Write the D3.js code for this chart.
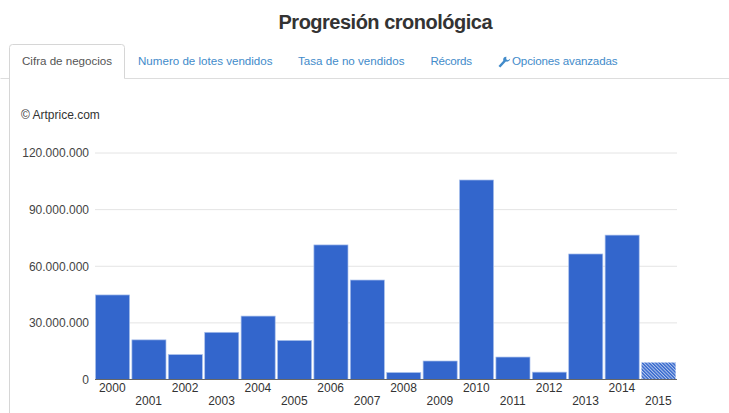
<!DOCTYPE html>
<html><head><meta charset="utf-8">
<script src="https://cdn.jsdelivr.net/npm/d3@7"></script>
<style>
html,body{margin:0;padding:0;background:#fff}
svg{display:block;font-family:"Liberation Sans",Arial,sans-serif}
</style></head><body>
<svg id="c" width="729" height="413"></svg>
<script>
const years=["2000","2001","2002","2003","2004","2005","2006","2007","2008","2009","2010","2011","2012","2013","2014","2015"];
const revenue=[44800000,21000000,13200000,25000000,33600000,20700000,71300000,52700000,3700000,9800000,105700000,11900000,3900000,66500000,76500000,9000000];
const partialYears=["2015"];
const yTicks=[0,30000000,60000000,90000000,120000000];
const tabs=["Cifra de negocios","Numero de lotes vendidos","Tasa de no vendidos","Récords","Opciones avanzadas"];
const tabX=[22,138,298,430.5,512];
const tabW=[90,134.5,106.5,41.5,105.5];

const svg=d3.select("#c");
const defs=svg.append("defs");
const pat=defs.append("pattern").attr("id","hatch").attr("patternUnits","userSpaceOnUse")
  .attr("width",2.4).attr("height",2.4).attr("patternTransform","rotate(-45)");
pat.append("rect").attr("width",2.4).attr("height",2.4).attr("fill","#b4c8ee");
pat.append("rect").attr("width",1.4).attr("height",2.4).attr("fill","#3366cc");

const x=d3.scaleBand().domain(years).range([95,675.6]).paddingInner(0.05).paddingOuter(0.0);
const y=d3.scaleLinear().domain([0,120000000]).range([379.5,153]);

// title
svg.append("text").attr("x",385.5).attr("y",29).attr("text-anchor","middle")
  .attr("font-size",20).attr("font-weight",700).attr("fill","#333").attr("textLength",214).text("Progresión cronológica");

// tab strip
const border="#ddd";
svg.append("path").attr("d","M0.5 78.5H9.5M124.5 78.5H729").attr("stroke",border).attr("fill","none");
svg.append("path").attr("d","M9.5 413V47.5a3 3 0 0 1 3-3H121.5a3 3 0 0 1 3 3V78.5").attr("stroke","#d6d6d6").attr("fill","none");
svg.selectAll("text.tab").data(tabs).join("text").attr("class","tab")
  .attr("x",(d,i)=>tabX[i]).attr("y",65).attr("font-size",11.6)
  .attr("textLength",(d,i)=>tabW[i])
  .attr("fill",(d,i)=>i===0?"#555":"#428bca").text(d=>d);
// wrench icon
svg.append("path").attr("d","M498.5 66l1.8 1.6 5.6-6.1c1.9.5 3.9-.4 4.3-2.7l-2.3 1.4-1.7-1 .2-2.4c-2.2-.2-3.7 1.7-3.1 3.9z")
  .attr("fill","#428bca");

svg.append("text").attr("x",21).attr("y",119).attr("font-size",12).attr("fill","#333").text("© Artprice.com");

// grid
const fmt=v=>d3.format(",")(v).replace(/,/g,".");
svg.append("g").selectAll("line").data(yTicks.slice(1)).join("line")
  .attr("x1",95).attr("x2",677).attr("y1",d=>y(d)).attr("y2",d=>y(d))
  .attr("stroke","#e4e4e4").attr("stroke-width",1);

// y axis
const yAxis=d3.axisLeft(y).tickValues(yTicks).tickFormat(fmt).tickSize(0).tickPadding(6);
const gy=svg.append("g").attr("transform","translate(95,0)").call(yAxis);
gy.select(".domain").remove();
gy.selectAll("text").attr("font-size",12).attr("fill","#444").attr("font-family","'Liberation Sans',Arial,sans-serif");

// bars
svg.append("g").selectAll("rect").data(years).join("rect")
  .attr("x",d=>x(d)+0.5).attr("width",x.bandwidth()-0.5)
  .attr("y",(d,i)=>y(revenue[i])).attr("height",(d,i)=>y(0)-y(revenue[i]))
  .attr("fill",d=>partialYears.includes(d)?"url(#hatch)":"#3366cc")
  .attr("stroke",d=>partialYears.includes(d)?"none":"#a9c0ec").attr("stroke-width",0.7);

// x axis
svg.append("line").attr("x1",95).attr("x2",677).attr("y1",379.5).attr("y2",379.5).attr("stroke","#666");
svg.append("g").selectAll("text").data(years).join("text")
  .attr("x",d=>x(d)+x.bandwidth()/2).attr("y",(d,i)=>i%2?405:391.5)
  .attr("text-anchor","middle").attr("font-size",12).attr("fill","#333").text(d=>d);
</script></body></html>
